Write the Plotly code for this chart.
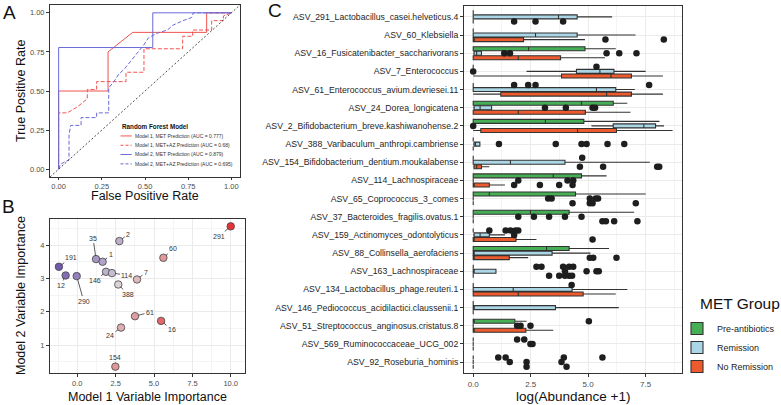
import plotly.graph_objects as go

# ---------------- Panel A: ROC curves ----------------
m1_met_fpr = [0, 0, 0.286, 0.286, 0.429, 0.857, 0.857, 1.0]
m1_met_tpr = [0, 0.5, 0.5, 0.75, 0.875, 0.875, 1.0, 1.0]
m2_met_fpr = [0, 0, 0.545, 0.545, 1.0]
m2_met_tpr = [0, 0.778, 0.778, 1.0, 1.0]
m1_az_fpr = [0, 0, 0.05, 0.11, 0.166, 0.166, 0.22, 0.22, 0.39, 0.39, 0.494, 0.494,
             0.718, 0.718, 0.776, 0.776, 0.886, 0.886, 0.954, 0.954, 1.0]
m1_az_tpr = [0, 0.36, 0.36, 0.40, 0.45, 0.51, 0.51, 0.56, 0.56, 0.62, 0.62, 0.77,
             0.77, 0.85, 0.85, 0.89, 0.89, 0.95, 0.95, 0.98, 1.0]
m2_az_fpr = [0, 0.01, 0.04, 0.06, 0.06, 0.07, 0.13, 0.13, 0.22, 0.22, 0.29, 0.29, 0.32,
             0.35, 0.38, 0.41, 0.44, 0.46, 0.49, 0.52, 0.57, 0.63, 0.66, 0.72, 0.77, 0.78, 1.0]
m2_az_tpr = [0, 0.03, 0.05, 0.06, 0.22, 0.28, 0.28, 0.33, 0.33, 0.36, 0.36, 0.52, 0.56,
             0.61, 0.64, 0.68, 0.72, 0.75, 0.79, 0.84, 0.87, 0.89, 0.92, 0.95, 0.97, 1.0, 1.0]
roc_names = ["Model 1, MET Prediction (AUC = 0.777)",
             "Model 1, MET+AZ Prediction (AUC = 0.68)",
             "Model 2, MET Prediction (AUC = 0.879)",
             "Model 2, MET+AZ Prediction (AUC = 0.695)"]

# ---------------- Panel B: variable importance ----------------
b_ids = ["291", "2", "35", "1", "60", "191", "12", "290", "146", "114", "7", "388", "61", "16", "24", "154"]
b_m1 = [10.0, 2.74, 1.22, 1.65, 5.61, -1.2, -0.76, -0.04, 1.87, 2.26, 3.89, 2.67, 3.76, 5.46, 2.85, 2.48]
b_m2 = [4.56, 4.12, 3.58, 3.50, 3.62, 3.35, 3.09, 3.07, 3.20, 3.16, 2.97, 2.82, 1.87, 1.73, 1.53, 0.36]
# label offsets (pixels, style only)
lab_dx = [-12, 9, -3, 8, 10, 12, -5, 7, -11, 15, 9, 10, 15, 11, -11, 0]
lab_dy = [10, -7, -21, -7, -9, -9, 10, 25, 9, 2, -7, 10, -4, 9, 8, -9]

# ---------------- Panel C: abundance boxplots ----------------
taxa = [
    "ASV_291_Lactobacillus_casei.helveticus.4",
    "ASV_60_Klebsiella",
    "ASV_16_Fusicatenibacter_saccharivorans",
    "ASV_7_Enterococcus",
    "ASV_61_Enterococcus_avium.devriesei.11",
    "ASV_24_Dorea_longicatena",
    "ASV_2_Bifidobacterium_breve.kashiwanohense.2",
    "ASV_388_Varibaculum_anthropi.cambriense",
    "ASV_154_Bifidobacterium_dentium.moukalabense",
    "ASV_114_Lachnospiraceae",
    "ASV_65_Coprococcus_3_comes",
    "ASV_37_Bacteroides_fragilis.ovatus.1",
    "ASV_159_Actinomyces_odontolyticus",
    "ASV_88_Collinsella_aerofaciens",
    "ASV_163_Lachnospiraceae",
    "ASV_134_Lactobacillus_phage.reuteri.1",
    "ASV_146_Pediococcus_acidilactici.claussenii.1",
    "ASV_51_Streptococcus_anginosus.cristatus.8",
    "ASV_569_Ruminococcaceae_UCG_002",
    "ASV_92_Roseburia_hominis",
]
groups = ["Pre-antibiotics", "Remission", "No Remission"]

pre_lo  = [0, 0, 0,    0, 0, 0,    0,    0, 0, 0,    0,    0,    0, 0,    0, 0, 0, 0,    0, 0]
pre_q1  = [0, 0, 0,    0, 0, 0,    0,    0, 0, 0,    0,    0,    0, 0,    0, 0, 0, 0,    0, 0]
pre_med = [0, 0, 2.41, 0, 0, 4.71, 3.14, 0, 0, 3.48, 0.70, 2.49, 0, 3.19, 0, 0, 0, 0,    0, 0]
pre_q3  = [0, 0, 4.86, 0, 0, 6.09, 4.81, 0, 0, 4.71, 4.45, 4.17, 0, 4.17, 0, 0, 0, 1.81, 0, 0]
pre_hi  = [0, 0, 6.20, 0, 0, 6.70, 8.10, 0, 0, 5.80, 7.50, 7.00, 0, 5.91, 0, 0, 0, 2.32, 0, 0]
pre_out = [[], [], [], [5.36], [1.78, 2.39, 2.71, 7.65], [], [], [], [4.74], [], [], [],
           [0.70, 1.41, 1.62, 1.84, 1.96], [], [2.75, 2.97, 3.91, 4.17, 4.35], [4.28], [],
           [5.03], [1.91, 2.22], [1.09, 1.41, 3.94, 5.62]]

rem_lo  = [0,    0,    0,    2.32, 0,    0,    5.14, 0,    0,    0, 0, 0, 0,    0,    0,    0,    0,    0, 0, 0]
rem_q1  = [0,    0,    0.04, 4.49, 0,    0.04, 6.09, 0.04, 0,    0, 0, 0, 0.04, 0,    0,    0,    0,    0, 0, 0]
rem_med = [3.71, 2.71, 0.15, 5.51, 5.36, 0.30, 7.42, 0.10, 1.62, 0, 0, 0, 0.30, 0,    0,    1.74, 0,    0, 0, 0]
rem_q3  = [4.52, 4.52, 0.36, 6.12, 6.20, 0.80, 7.93, 0.29, 3.99, 0, 0, 0, 0.70, 3.43, 0.99, 4.30, 3.58, 0, 0, 0]
rem_hi  = [6.04, 7.06, 0.36, 7.50, 7.03, 0.80, 8.30, 0.29, 7.68, 0, 0, 0, 1.38, 5.10, 0.99, 6.70, 6.33, 0, 0, 0]
rem_out = [[], [], [1.35, 1.60, 5.80, 6.35, 7.10], [0.0], [], [3.12, 4.03, 5.19, 5.30], [0.0],
           [1.12, 3.59, 4.71, 4.93, 5.84, 6.57], [], [1.96, 4.10, 4.35], [3.26, 3.41, 5.07, 5.33, 5.43],
           [1.96, 2.64, 3.30, 3.99, 4.71], [1.78], [], [3.99, 4.93, 5.36, 5.46], [], [],
           [1.91, 2.06, 2.49], [2.49, 2.58], [1.59, 2.32, 3.84]]

nor_lo  = [0, 0,    0,    0,    0,    0,    0,    0, 0,    0,    0, 0, 0,    0,    0, 0,    0, 0,    0, 0]
nor_q1  = [0, 0,    0,    3.84, 1.20, 0,    0.33, 0, 0.04, 0,    0, 0, 0,    0,    0, 0,    0, 0,    0, 0]
nor_med = [0, 0,    1.96, 5.99, 5.80, 1.96, 4.54, 0, 0.15, 0,    0, 0, 0,    0,    0, 1.96, 0, 0,    0, 0]
nor_q3  = [0, 2.19, 3.80, 6.88, 6.88, 4.88, 6.23, 0, 0.36, 0.70, 0, 0, 1.86, 1.57, 0, 4.78, 0, 2.29, 0, 0]
nor_hi  = [0, 4.86, 5.73, 8.25, 8.25, 6.84, 8.67, 0, 0.70, 1.38, 0, 0, 2.75, 2.39, 0, 6.20, 0, 3.48, 0, 0]
nor_out = [[1.78, 2.71, 3.91], [5.75, 8.29], [], [], [], [], [], [], [4.64, 5.65, 8.00, 8.09],
           [1.78, 2.90, 3.74, 4.32], [4.32, 5.07, 5.19, 7.07], [5.62, 5.77, 6.13, 7.14], [5.19],
           [5.07, 5.22, 6.23], [3.30, 3.74, 3.99, 4.17, 4.30], [], [], [], [], [2.32, 4.06]]

# ---------------- styling ----------------
W, H = 781, 405
FONT = "Liberation Sans, Arial, Helvetica, sans-serif"
RED = "#F2524E"
BLUE = "#6A6AD8"
GRP_COLORS = ["#46AE55", "#ABD6E6", "#EC5A2E"]
GRID = "#EBEBEB"
MINOR = "#F4F4F4"
EDGE = "#333333"
TICKC = "#4D4D4D"


def dx(p):
    return p / W


def dy(p):
    return 1 - p / H


fig = go.Figure()

# ---- Panel A traces
for fx, fy, col, dash, nm in [
    (m1_met_fpr, m1_met_tpr, RED, "solid", roc_names[0]),
    (m1_az_fpr, m1_az_tpr, RED, "4px,2px", roc_names[1]),
    (m2_met_fpr, m2_met_tpr, BLUE, "solid", roc_names[2]),
    (m2_az_fpr, m2_az_tpr, BLUE, "4px,2px", roc_names[3]),
]:
    fig.add_trace(go.Scatter(x=fx, y=fy, mode="lines", name=nm,
                             line=dict(color=col, width=1, dash=dash),
                             xaxis="x", yaxis="y", showlegend=False, hoverinfo="skip"))

# ---- Panel B traces
b_diff = [a - b for a, b in zip(b_m1, b_m2)]
fig.add_trace(go.Scatter(
    x=b_m1, y=b_m2, mode="markers", xaxis="x2", yaxis="y2", showlegend=False,
    marker=dict(size=7.5, color=b_diff, cmin=-6.3, cmax=6.3,
                colorscale=[[0, "#4A2A9E"], [0.5, "#DCD6D8"], [1, "#E8191C"]],
                line=dict(color="#444444", width=0.8)),
    hoverinfo="skip"))

# ---- Panel C traces
offsets = [-0.25, 0.0, 0.25]
stats = [
    (pre_lo, pre_q1, pre_med, pre_q3, pre_hi, pre_out),
    (rem_lo, rem_q1, rem_med, rem_q3, rem_hi, rem_out),
    (nor_lo, nor_q1, nor_med, nor_q3, nor_hi, nor_out),
]
for gi, (lo, q1, med, q3, hi, out) in enumerate(stats):
    pos = [i + offsets[gi] for i in range(len(taxa))]
    fig.add_trace(go.Box(
        y=pos, q1=q1, median=med, q3=q3, lowerfence=lo, upperfence=hi,
        orientation="h", width=0.22, whiskerwidth=0, boxpoints=False,
        fillcolor=GRP_COLORS[gi], line=dict(color=EDGE, width=1.1),
        name=groups[gi], xaxis="x3", yaxis="y3", showlegend=True, hoverinfo="skip"))
for gi, (lo, q1, med, q3, hi, out) in enumerate(stats):
    ox, oy = [], []
    for i, vals in enumerate(out):
        for v in vals:
            ox.append(v)
            oy.append(i + offsets[gi])
    fig.add_trace(go.Scatter(x=ox, y=oy, mode="markers", xaxis="x3", yaxis="y3",
                             marker=dict(size=6.5, color="#1E1E1E"), showlegend=False,
                             hoverinfo="skip"))

axis_common = dict(showline=True, mirror=True, linecolor=EDGE, linewidth=1,
                   ticks="outside", ticklen=3, tickcolor=EDGE, zeroline=False,
                   automargin=False, tickfont=dict(size=7.5, color=TICKC, family=FONT))
no_font = {k: v for k, v in axis_common.items() if k != "tickfont"}
no_font_len = {k: v for k, v in no_font.items() if k != "ticklen"}

fig.update_layout(
    margin=dict(l=0, r=0, t=0, b=0),
    paper_bgcolor="white", plot_bgcolor="white",
    font=dict(family=FONT, color="#111111"),
    boxmode="overlay",
    xaxis=dict(domain=[dx(50), dx(240)], range=[-0.05, 1.05], anchor="y",
               tickvals=[0, 0.25, 0.5, 0.75, 1.0], ticklen=2,
               ticktext=["0.00", "0.25", "0.50", "0.75", "1.00"], showgrid=False,
               **no_font_len, tickfont=dict(size=7.5, color=TICKC, family=FONT)),
    yaxis=dict(domain=[dy(177), dy(5)], range=[-0.05, 1.05], anchor="x",
               tickvals=[0, 0.25, 0.5, 0.75, 1.0],
               ticktext=["0.00", "0.25", "0.50", "0.75", "1.00"], showgrid=False, **axis_common),
    xaxis2=dict(domain=[dx(50), dx(245)], range=[-1.78, 10.93], anchor="y2",
                tickvals=[0, 2.5, 5, 7.5, 10], ticktext=["0.0", "2.5", "5.0", "7.5", "10.0"],
                showgrid=True, gridcolor=GRID, gridwidth=0.8,
                minor=dict(dtick=1.25, tick0=0, showgrid=True, gridcolor=MINOR, gridwidth=0.5, ticks=""),
                **axis_common),
    yaxis2=dict(domain=[dy(373), dy(219)], range=[0.17, 4.78], anchor="x2",
                tickvals=[1, 2, 3, 4], ticktext=["1", "2", "3", "4"],
                showgrid=True, gridcolor=GRID, gridwidth=0.8,
                minor=dict(dtick=0.5, tick0=0, showgrid=True, gridcolor=MINOR, gridwidth=0.5, ticks=""),
                **axis_common),
    xaxis3=dict(domain=[dx(464), dx(682)], range=[-0.4, 9.08], anchor="y3",
                tickvals=[0, 2.5, 5, 7.5], ticktext=["0.0", "2.5", "5.0", "7.5"],
                showgrid=True, gridcolor=GRID, gridwidth=0.8,
                minor=dict(dtick=1.25, tick0=0, showgrid=True, gridcolor=MINOR, gridwidth=0.5, ticks=""),
                **no_font, tickfont=dict(size=8, color=TICKC, family=FONT)),
    yaxis3=dict(domain=[dy(373), dy(6)], range=[19.6, -0.6], anchor="x3",
                tickvals=list(range(len(taxa))), ticktext=taxa,
                showgrid=True, gridcolor=GRID, gridwidth=0.8,
                **no_font, tickfont=dict(size=8.7, color="#1E1E1E", family=FONT)),
    legend=dict(x=dx(677), y=dy(314), xanchor="left", yanchor="top",
                font=dict(size=9, color="#222222"), bgcolor="rgba(0,0,0,0)",
                tracegroupgap=0),
)

# diagonal reference line in panel A
fig.add_shape(type="line", xref="x", yref="y", x0=-0.05, y0=-0.05, x1=1.05, y1=1.05,
              line=dict(color="#222222", width=0.8, dash="2px,2px"))

annots = []
# Panel A manual legend
annots.append(dict(xref="x", yref="y", x=0.355, y=0.276, text="<b>Random Forest Model</b>",
                   showarrow=False, xanchor="left", yanchor="middle", font=dict(size=6.3, color="#111")))
leg_rows_y = [0.2125, 0.153, 0.094, 0.034]
leg_cols = [RED, RED, BLUE, BLUE]
leg_dash = ["solid", "3px,2px", "solid", "3px,2px"]
for ry, c, d, nm in zip(leg_rows_y, leg_cols, leg_dash, roc_names):
    fig.add_shape(type="line", xref="x", yref="y", x0=0.358, x1=0.423, y0=ry, y1=ry,
                  line=dict(color=c, width=1, dash=d))
    annots.append(dict(xref="x", yref="y", x=0.432, y=ry, text=nm, showarrow=False,
                       xanchor="left", yanchor="middle", font=dict(size=5, color="#333")))

# Panel B labels
for i, lab in enumerate(b_ids):
    annots.append(dict(xref="x2", yref="y2", x=b_m1[i], y=b_m2[i], text=lab,
                       showarrow=True, arrowhead=0, arrowwidth=0.8, arrowcolor="#333",
                       ax=lab_dx[i], ay=lab_dy[i], standoff=3.5,
                       font=dict(size=7, color="#333")))


def ptext(x, y, text, size, angle=0, xanchor="center"):
    return dict(xref="paper", yref="paper", x=dx(x), y=dy(y), text=text, showarrow=False,
                xanchor=xanchor, yanchor="middle", textangle=angle, font=dict(size=size))


# axis titles, panel letters, legend title
annots += [
    ptext(145, 196, "False Positive Rate", 12.5),
    ptext(21, 91, "True Positive Rate", 12.5, angle=-90),
    ptext(147, 396.5, "Model 1 Variable Importance", 12.5),
    ptext(21, 296, "Model 2 Variable Importance", 12.5, angle=-90),
    ptext(573, 396.5, "log(Abundance +1)", 13.5),
    ptext(698, 303, "MET Group", 15.5, xanchor="left"),
    ptext(1, 12, "A", 19, xanchor="left"),
    ptext(0, 207, "B", 19, xanchor="left"),
    ptext(266, 10, "C", 19, xanchor="left"),
]
fig.update_layout(annotations=annots)

fig.write_html("out.html",
               config={"displayModeBar": False},
               default_width="781px",
               default_height="405px;position:absolute;left:0;top:0",
               post_script="document.body.style.margin='0';")
